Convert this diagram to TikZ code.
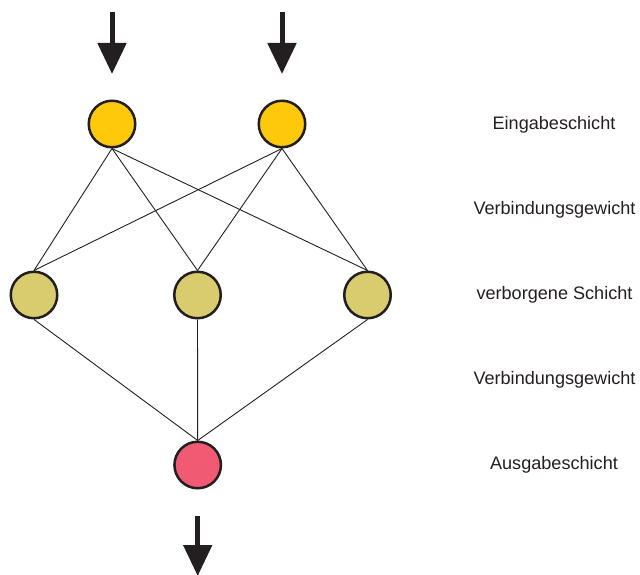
\documentclass[tikz,border=0pt]{standalone}
\usepackage{fontspec}
\setmainfont{Liberation Sans}
\usetikzlibrary{arrows.meta}
\definecolor{inyel}{HTML}{FFC90B}
\definecolor{hidkh}{HTML}{D9CC6E}
\definecolor{outpk}{HTML}{F05A73}
\definecolor{ink}{HTML}{231F20}
\tikzset{
  neuron/.style={circle,draw=ink,line width=2.5pt,minimum size=46.5pt,inner sep=0pt},
  conn/.style={draw=ink,line width=0.9pt},
  bigarrow/.style={draw=ink,line width=5pt,-{Triangle[length=31pt,width=28pt,fill=ink]}},
  lbl/.style={text=ink,font=\fontsize{18.1}{20}\selectfont,anchor=center}
}
\begin{document}
\begin{tikzpicture}[x=1pt,y=-1pt]
\useasboundingbox (0,0) rectangle (640,575);
\node[neuron,fill=inyel] (i1) at (112,124) {};
\node[neuron,fill=inyel] (i2) at (282,124) {};
\node[neuron,fill=hidkh] (h1) at (34,295) {};
\node[neuron,fill=hidkh] (h2) at (197.5,295) {};
\node[neuron,fill=hidkh] (h3) at (367.5,295) {};
\node[neuron,fill=outpk] (o) at (197.7,465) {};
\foreach \a in {i1,i2}{\foreach \b in {h1,h2,h3}{\draw[conn] (\a.south) -- (\b.north);}}
\foreach \b in {h1,h2,h3}{\draw[conn] (\b.south) -- (o.north);}
\coordinate (a1s) at (112,12); \coordinate (a1e) at (112,74);
\coordinate (a2s) at (282,12); \coordinate (a2e) at (282,74);
\coordinate (a3s) at (197.7,516); \coordinate (a3e) at (197.7,576);
\draw[bigarrow] (a1s) -- (a1e);
\draw[bigarrow] (a2s) -- (a2e);
\draw[bigarrow] (a3s) -- (a3e);
\node[lbl] (l1) at (554,125) {Eingabeschicht};
\node[lbl] (l2) at (554.5,210) {Verbindungsgewicht};
\node[lbl] (l3) at (554.5,295) {verborgene Schicht};
\node[lbl] (l4) at (554.5,380) {Verbindungsgewicht};
\node[lbl] (l5) at (554,465) {Ausgabeschicht};
\end{tikzpicture}
\end{document}
